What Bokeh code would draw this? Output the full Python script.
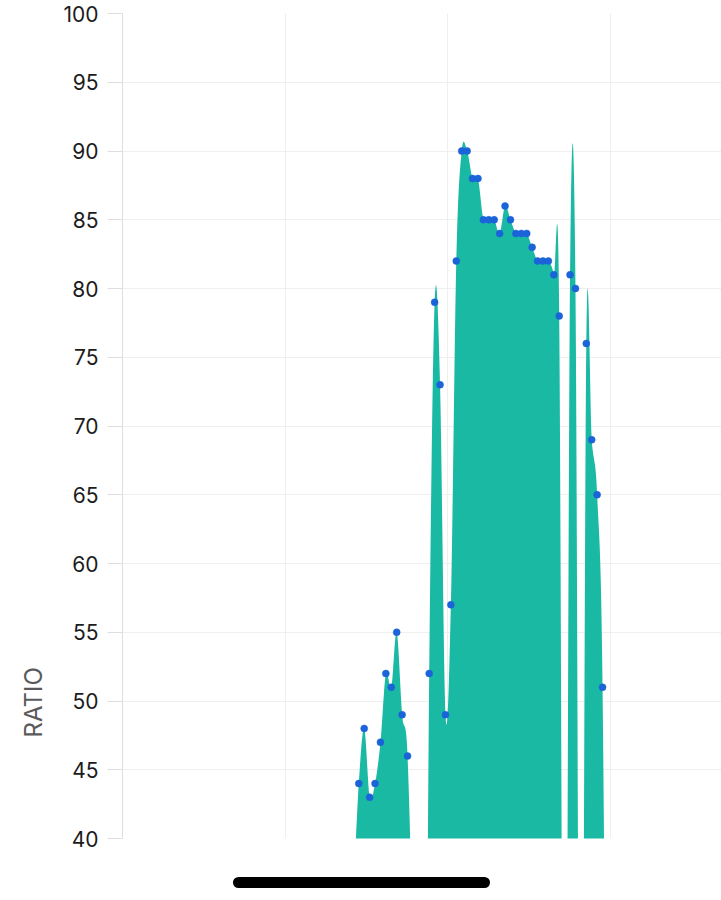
import numpy as np
from bokeh.plotting import figure
from bokeh.models import Range1d, FixedTicker, Title, Div
from bokeh.layouts import column
from bokeh.embed import file_html
from bokeh.resources import INLINE

# ---- data (values below 40 are off-scale estimates) ----
day = [0, 1, 2, 3, 4, 5, 6, 7, 8, 9, 10, 11, 12, 13, 14, 15, 16, 17, 18, 19,
       20, 21, 22, 23, 24, 25, 26, 27, 28, 29, 30, 31, 32, 33, 34, 35, 36, 37,
       38, 39, 40, 41, 42, 43, 44, 45, 46, 47]
ratio = [36, 44, 48, 43, 44, 47, 52, 51, 55, 49, 46, 30, 0, 0,
         52, 79, 73, 49, 57, 82, 90, 90, 88, 88, 85, 85, 85, 84, 86, 85,
         84, 84, 84, 83, 82, 82, 82, 81, 78, 0, 81, 80, 0, 76, 69, 65, 51, 0]
ratio_ticks = [40, 45, 50, 55, 60, 65, 70, 75, 80, 85, 90, 95, 100]
y_label = "RATIO"

# ---- styles ----
FILL = "#1ab9a4"
DOT = "#1b63d9"
GRID = "#efefef"
AXIS = "#dedede"
FONT = "Inter"


def catmull_rom(xs, ys, n=24):
    """Uniform Catmull-Rom curve through the data points (as the original chart draws it)."""
    px = [xs[0]] + list(xs) + [xs[-1]]
    py = [ys[0]] + list(ys) + [ys[-1]]
    t = np.linspace(0.0, 1.0, n, endpoint=False)
    a = (1 - t) ** 3
    b = 3 * (1 - t) ** 2 * t
    c = 3 * (1 - t) * t ** 2
    d = t ** 3
    cx, cy = [], []
    for i in range(1, len(px) - 2):
        x0, x1, x2, x3 = px[i - 1:i + 3]
        y0, y1, y2, y3 = py[i - 1:i + 3]
        c1x, c1y = x1 + (x2 - x0) / 6.0, y1 + (y2 - y0) / 6.0
        c2x, c2y = x2 - (x3 - x1) / 6.0, y2 - (y3 - y1) / 6.0
        cx.extend(a * x1 + b * c1x + c * c2x + d * x2)
        cy.extend(a * y1 + b * c1y + c * c2y + d * y2)
    cx.append(px[-2])
    cy.append(py[-2])
    return np.array(cx), np.array(cy)


x_start = -42.62
x_end = 67.96

p = figure(width=721, height=852, output_backend="svg", toolbar_location=None,
           x_range=Range1d(x_start, x_end), y_range=Range1d(40, 100),
           min_border_left=122, min_border_right=0, min_border_top=13,
           min_border_bottom=14)
p.outline_line_color = None
p.background_fill_color = "white"
p.border_fill_color = "white"

sx, sy = catmull_rom(day, ratio)
p.varea(x=sx, y1=np.minimum(sy, 0) - 1, y2=sy, fill_color=FILL, fill_alpha=1.0)
p.scatter(x=day, y=ratio, size=7, fill_color=DOT, line_color=DOT, line_width=0.5)

p.xaxis.visible = False
p.xaxis.ticker = FixedTicker(ticks=[x_start + 30 * k for k in range(5)])
p.xgrid.grid_line_color = GRID
p.xgrid.grid_line_width = 1

p.yaxis.ticker = FixedTicker(ticks=ratio_ticks)
p.yaxis.axis_line_color = AXIS
p.yaxis.major_tick_line_color = AXIS
p.yaxis.major_tick_out = 15
p.yaxis.major_tick_in = 0
p.yaxis.minor_tick_line_color = None
p.yaxis.major_label_standoff = 9
p.yaxis.major_label_text_font = FONT
p.yaxis.major_label_text_font_size = "21px"
p.yaxis.major_label_text_color = "#1c1c1c"
p.ygrid.grid_line_color = GRID
p.ygrid.grid_line_width = 1

# axis title, placed low on the left side as in the reference
p.add_layout(Title(text=y_label, align="left", vertical_align="middle", offset=101,
                   standoff=24, text_font=FONT, text_font_size="24px",
                   text_font_style="normal", text_color="#5a5a5a"), "left")

bar = Div(text="", width=257, height=11, margin=(25, 0, 0, 233),
          styles={"background-color": "#000000", "border-radius": "6px"})

layout = column(p, bar, spacing=0)

with open("out.html", "w") as f:
    f.write(file_html(layout, INLINE))
